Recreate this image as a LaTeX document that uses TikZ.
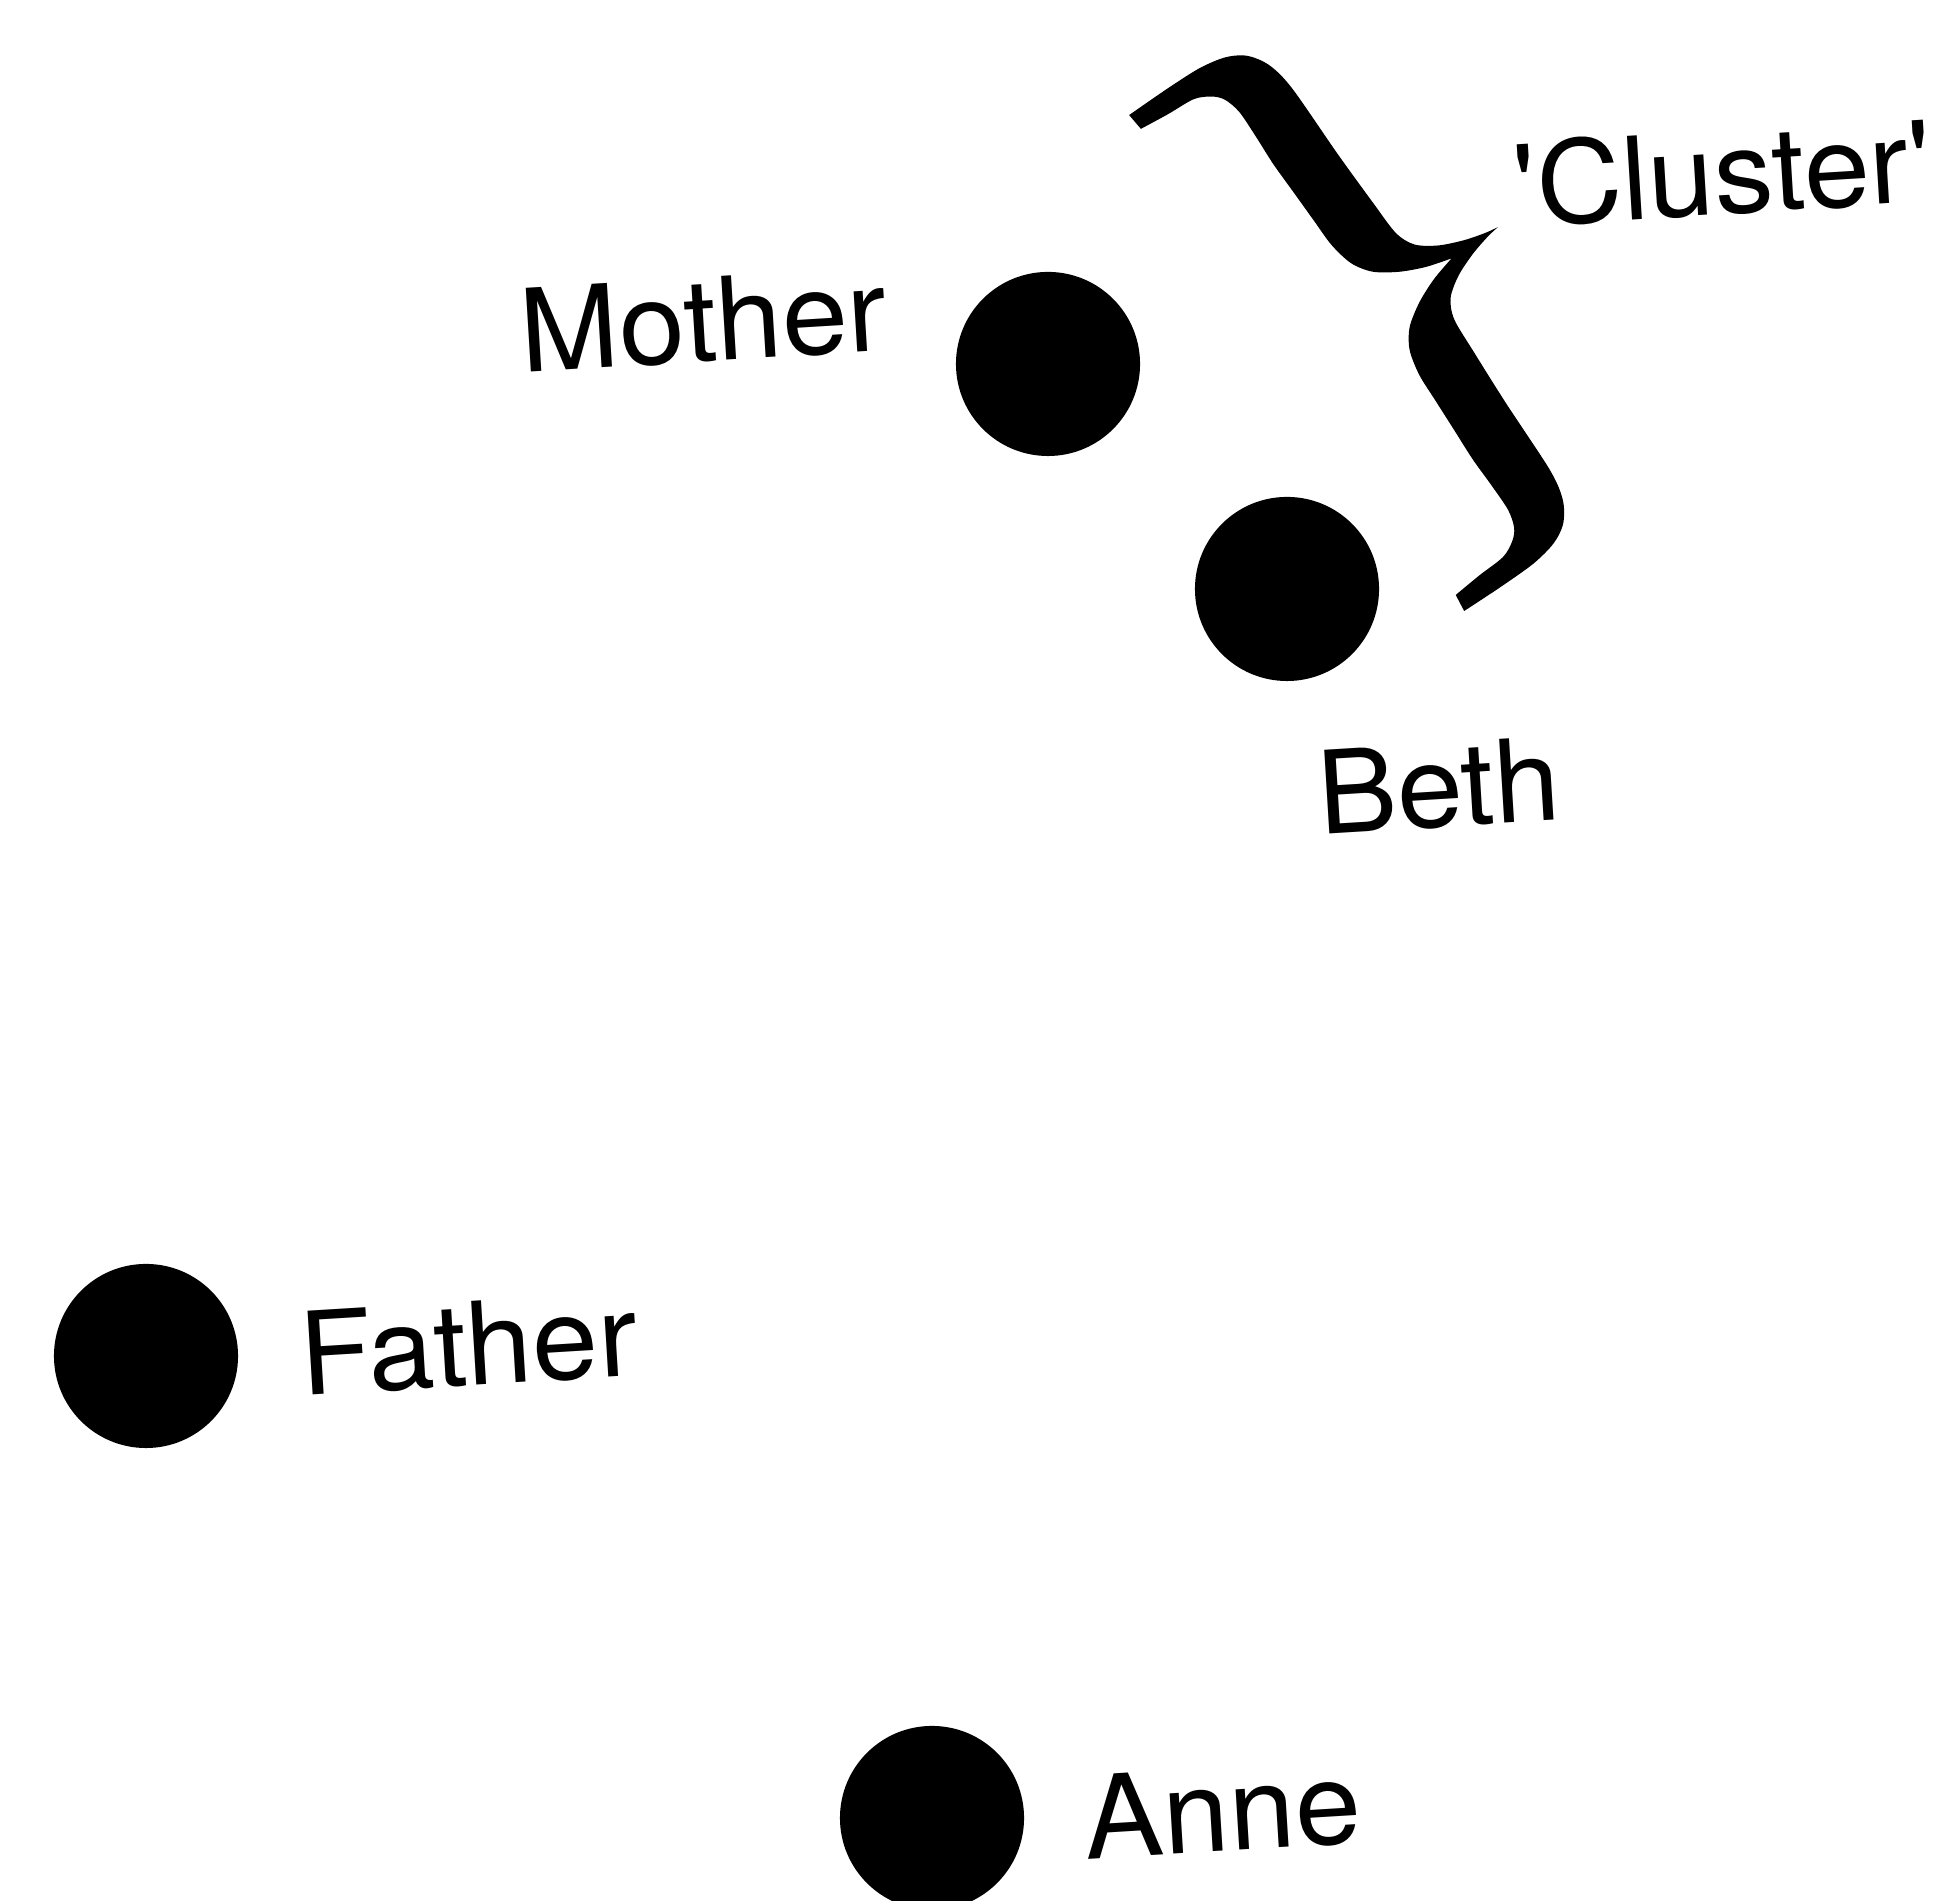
\documentclass[tikz,border=0pt]{standalone}
\usepackage{fontspec}
\setmainfont{TeX Gyre Heros}
\begin{document}
\begin{tikzpicture}[x=0.01cm,y=0.01cm]
\tikzset{
  dot/.style={circle, fill=black, inner sep=0pt, minimum size=1.84cm},
  lbl/.style={inner sep=0pt, font=\fontsize{32.7}{39}\selectfont, anchor=base, rotate=3.5, xscale=1.03},
  bracefill/.style={fill=black}
}
\useasboundingbox (0,0) rectangle (1942,1901);
% dots
\node[dot] (mother) at (1048,1537) {};
\node[dot] (beth) at (1287,1312) {};
\node[dot] (father) at (146,545) {};
\node[dot] (anne) at (932,83) {};
% labels
\node[lbl] (motherlbl) at (706,1540) {Mother};
\node[lbl] (bethlbl) at (1441,1074) {Beth};
\node[lbl] (fatherlbl) at (471,516) {Father};
\node[lbl] (annelbl) at (1225,50) {Anne};
\node[lbl] (clusterlbl) at (1725,1687) {\textquotesingle Cluster\textquotesingle};
% brace
\begin{scope}[shift={(1135,1779)}, rotate=-55.96]
\fill[bracefill] plot[smooth, tension=0.5] coordinates {(-9,-1) (-9.5,43) (-8.5,83) (-3,111) (8,130) (28,143) (60,149) (140,150) (200,152) (238,154) (258,163) (272,182) (282,206) (288,228) (290.25,242)}
 -- plot[smooth, tension=0.5] coordinates {(290.25,242) (292.5,228) (298.5,206) (308.5,182) (322.5,163) (342.5,154) (380.5,152) (440.5,150) (520.5,149) (552.5,143) (572.5,130) (583.5,111) (589,83) (590,43) (589.5,-1)}
 -- plot[smooth, tension=0.5] coordinates {(571.5,1) (568.5,31.5) (566.5,61.5) (558.5,78) (548.5,87) (530.5,92) (501.5,92) (468.5,91) (434.5,92) (398.5,93) (368.5,94) (342.5,100) (323.5,113) (308.5,135) (297.5,160) (290.25,186)}
 -- plot[smooth, tension=0.5] coordinates {(290.25,186) (283,160) (272,135) (257,113) (238,100) (212,94) (182,93) (146,92) (112,91) (79,92) (50,92) (32,87) (22,78) (14,61.5) (12,31.5) (9,1)} -- cycle;
\end{scope}
\end{tikzpicture}
\end{document}
